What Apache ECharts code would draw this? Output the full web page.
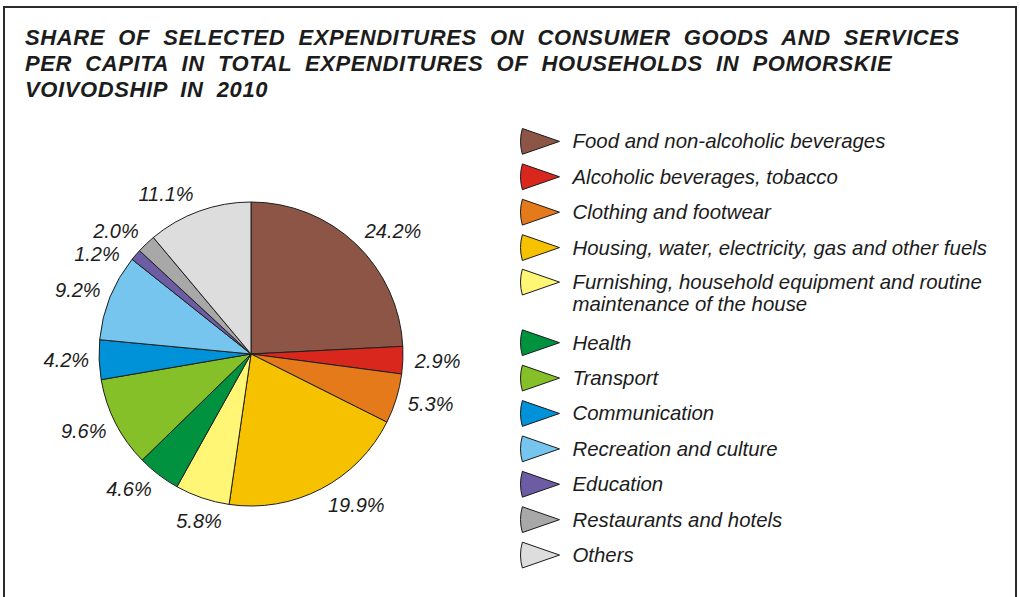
<!DOCTYPE html>
<html>
<head>
<meta charset="utf-8">
<style>
  html, body { margin: 0; padding: 0; background: #ffffff; }
  #chart { width: 1020px; height: 597px; }
  /* the heading is set with slightly open tracking and wide word gaps */
  #chart text[style*="bold"], #chart text[font-weight="bold"] { letter-spacing: 0.6px; word-spacing: 6.5px; }
</style>
<script src="https://cdn.jsdelivr.net/npm/echarts@6/dist/echarts.min.js"></script>
</head>
<body>
<div id="chart"></div>
<script>
// Expenditure groups, clockwise from 12 o'clock
const categories = [
  'Food and non-alcoholic beverages',
  'Alcoholic beverages, tobacco',
  'Clothing and footwear',
  'Housing, water, electricity, gas and other fuels',
  'Furnishing, household equipment and routine\nmaintenance of the house',
  'Health',
  'Transport',
  'Communication',
  'Recreation and culture',
  'Education',
  'Restaurants and hotels',
  'Others'
];

// Share in total household expenditures, %
const shares = [24.2, 2.9, 5.3, 19.9, 5.8, 4.6, 9.6, 4.2, 9.2, 1.2, 2.0, 11.1];

const titleLines = [
  'SHARE OF SELECTED EXPENDITURES ON CONSUMER GOODS AND SERVICES',
  'PER CAPITA IN TOTAL EXPENDITURES OF HOUSEHOLDS IN POMORSKIE',
  'VOIVODSHIP IN 2010'
];

const palette = [
  '#8c5546', '#d9271e', '#e57a1b', '#f6c200', '#fff675', '#00923f',
  '#86c029', '#0092d8', '#75c5ef', '#6b5ca3', '#a8a8a8', '#dddddd'
];

const FONT = '"Liberation Sans", Arial, Helvetica, sans-serif';
const INK = '#1c1c1c';
const PIE_CENTER = [251, 354];
const LEGEND_LINE = 22;
// wedge-shaped legend marker, arc on the left and tip to the right
const WEDGE = 'path://M38,12.5L2,0Q-1.6,12.5 2,25Z';
// the slice nearest 6 o'clock gets its label centred beneath it
const BOTTOM_SLICE = 4;
const FIRST_COLUMN = 4;

function legendItems(names) {
  return names.map(function (name) {
    const item = { name: name, icon: WEDGE };
    if (name.indexOf('\n') >= 0) {
      // a wrapped entry hangs down from its first line, which stays level with the marker;
      // top padding exceeds bottom padding by one line
      item.textStyle = {
        lineHeight: LEGEND_LINE,
        padding: [LEGEND_LINE + 5.6, 0, 5.6, 8],
        rich: { l: {} }
      };
    }
    return item;
  });
}

const legendBase = {
  orient: 'vertical',
  left: 520,
  padding: 0,
  itemWidth: 39,
  itemHeight: 26,
  itemGap: 8.6,
  selectedMode: false,
  itemStyle: { borderColor: '#1a1a1a', borderWidth: 1 },
  textStyle: {
    fontFamily: FONT, fontSize: 20.4, fontStyle: 'italic', color: INK,
    padding: [0, 0, 0, 8]
  }
};

const chart = echarts.init(document.getElementById('chart'), null, { renderer: 'svg' });

chart.setOption({
  animation: false,
  backgroundColor: '#ffffff',
  color: palette,
  title: {
    text: titleLines.join('\n'),
    left: 25,
    top: 24,
    padding: 0,
    textStyle: {
      fontFamily: FONT, fontSize: 22, fontWeight: 'bold', fontStyle: 'italic',
      color: INK, lineHeight: 26
    }
  },
  legend: [
    Object.assign({}, legendBase, { top: 128, data: legendItems(categories.slice(0, FIRST_COLUMN)) }),
    Object.assign({}, legendBase, { top: 243.5, data: legendItems(categories.slice(FIRST_COLUMN)) })
  ],
  graphic: [{
    type: 'rect',
    shape: { x: 4, y: 7, width: 1012, height: 640 },
    style: { fill: 'none', stroke: '#2b2b2b', lineWidth: 2 },
    silent: true
  }],
  series: [{
    type: 'pie',
    center: PIE_CENTER,
    radius: 152,
    startAngle: 90,
    clockwise: true,
    avoidLabelOverlap: true,
    emphasis: { disabled: true },
    itemStyle: { borderColor: '#1f1f1f', borderWidth: 1 },
    label: {
      show: true,
      position: 'outside',
      formatter: function (p) { return p.value.toFixed(1) + '%'; },
      fontFamily: FONT, fontSize: 20, fontStyle: 'italic', color: INK,
      distanceToLabelLine: 2
    },
    labelLine: { show: false, length: 10, length2: 0 },
    labelLayout: function (p) {
      const r = p.labelRect;
      if (p.dataIndex === BOTTOM_SLICE) {
        return { dx: r.width / 2 + 2, dy: 14 };
      }
      // push each label off the rim along its vertical direction,
      // so that its nearer corner rather than its middle faces the pie
      const mx = r.x + r.width / 2 - PIE_CENTER[0];
      const my = r.y + r.height / 2 - PIE_CENTER[1];
      const sinA = my / Math.sqrt(mx * mx + my * my);
      return { dy: 0.9 * (r.height / 2) * sinA };
    },
    data: categories.map(function (name, i) {
      return { name: name, value: shares[i] };
    })
  }]
});
</script>
</body>
</html>
